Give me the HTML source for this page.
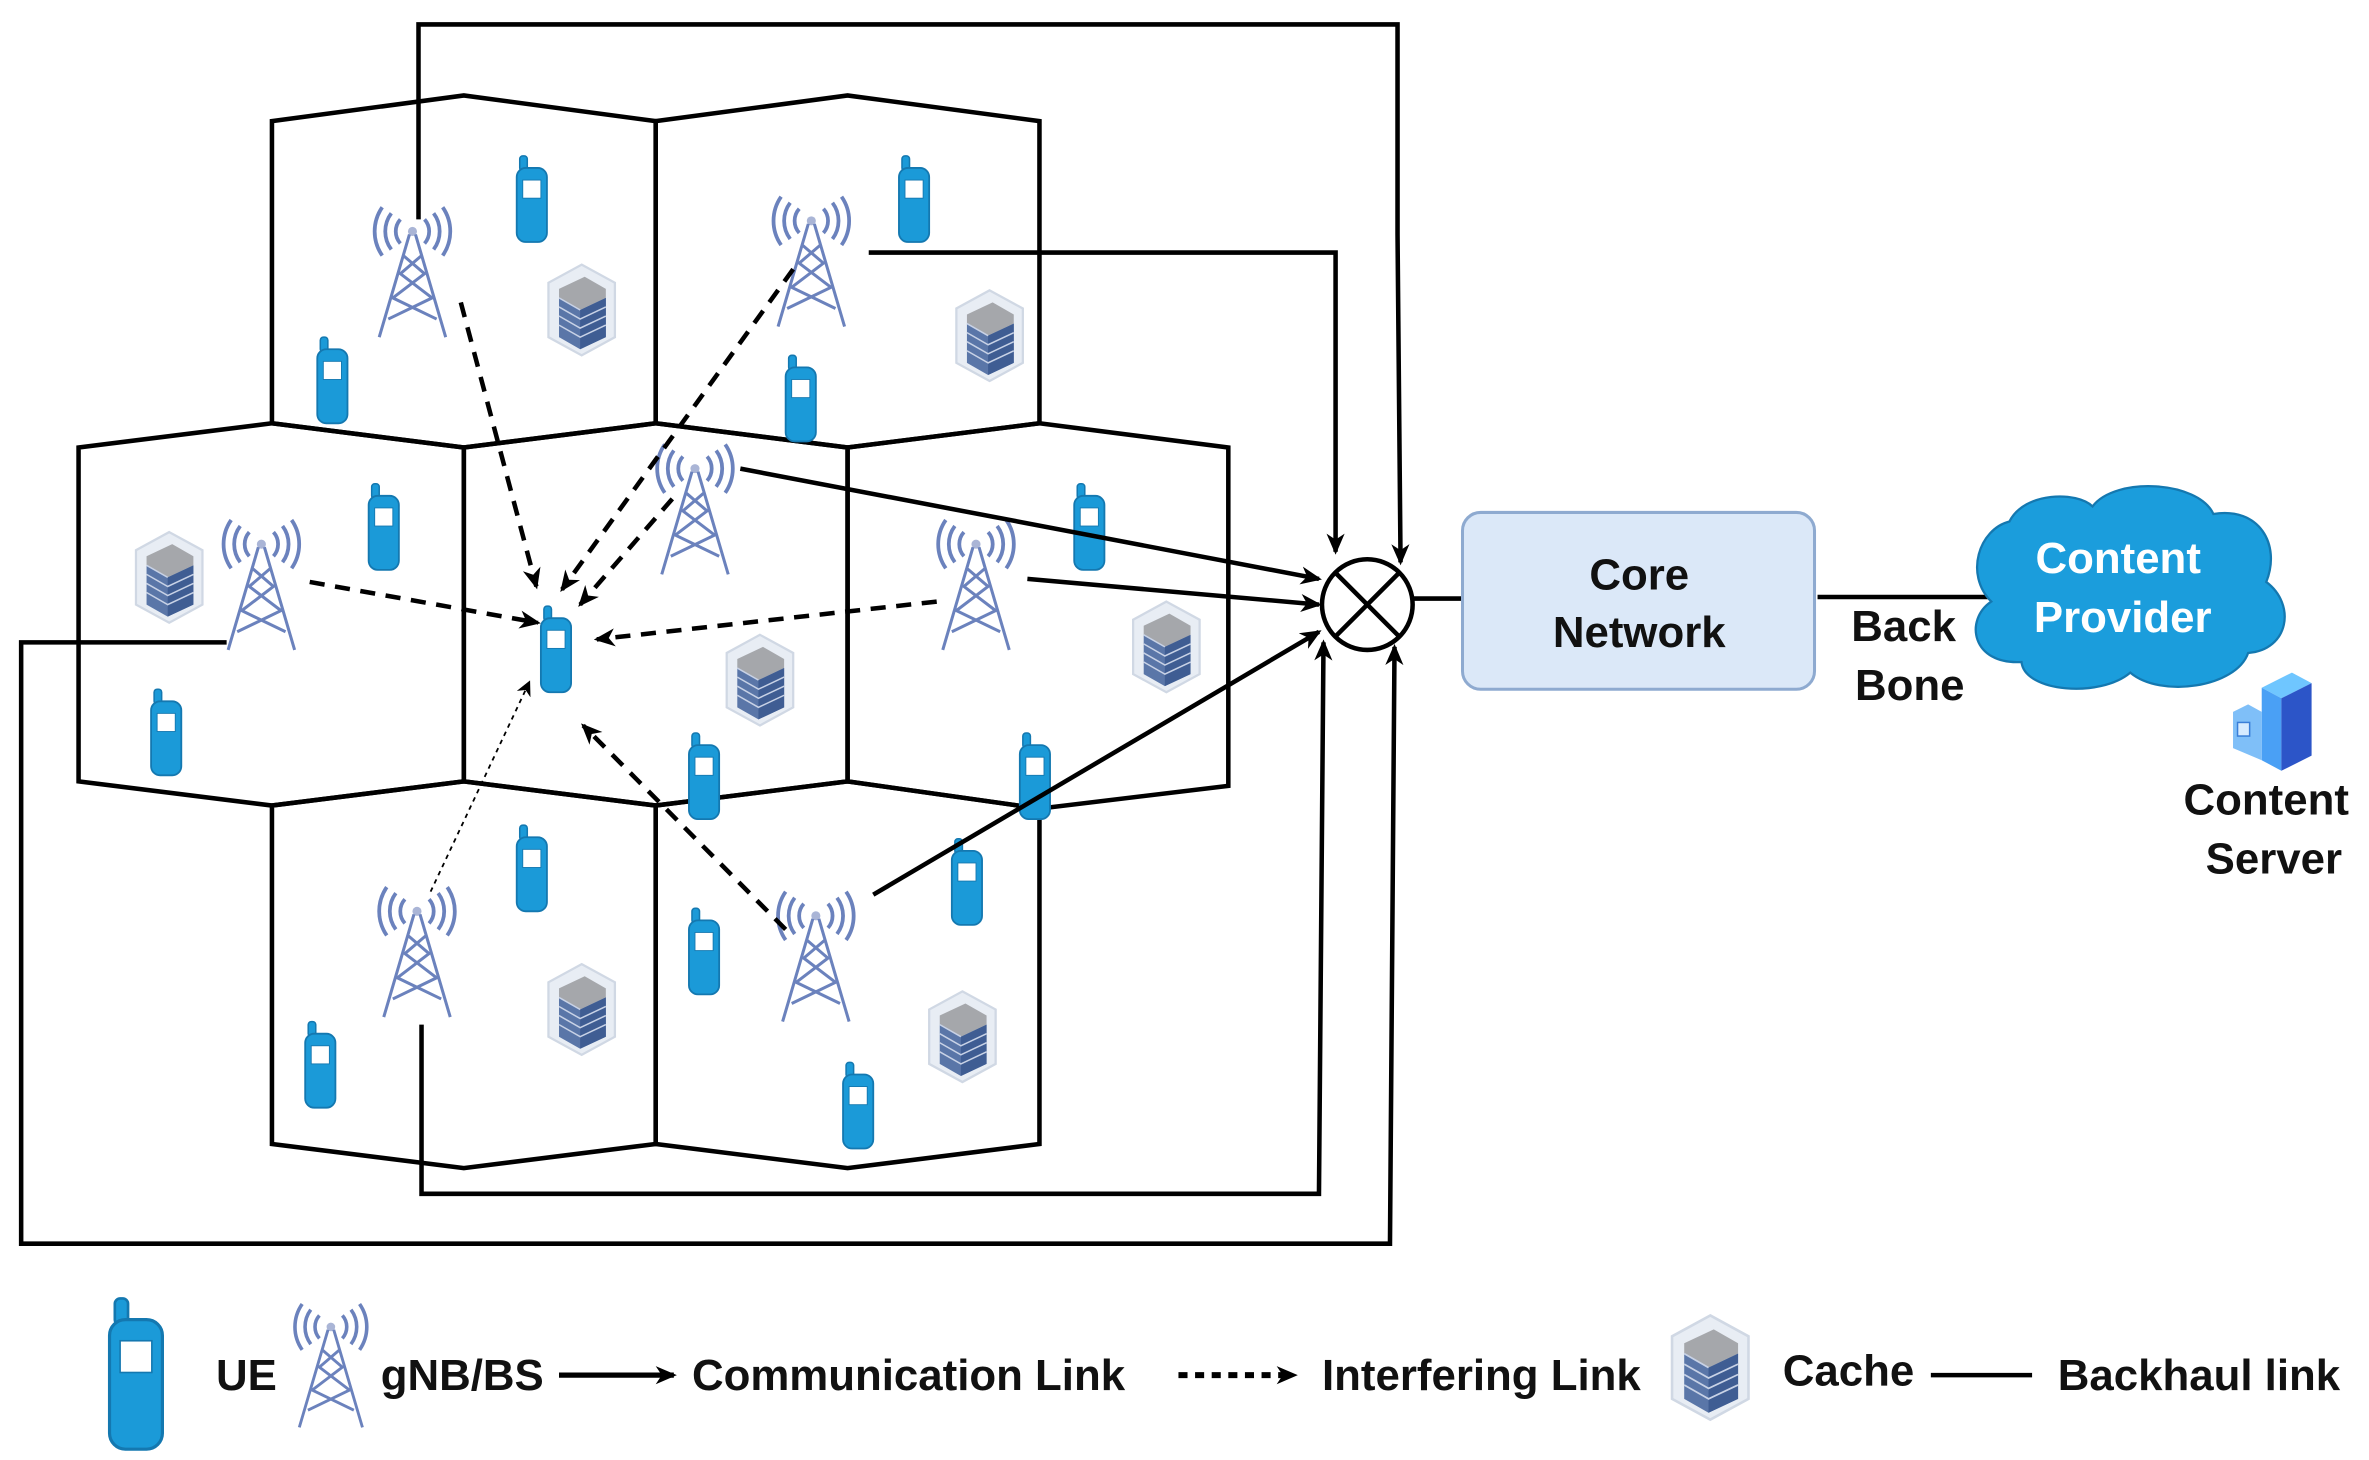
<!DOCTYPE html>
<html><head><meta charset="utf-8"><style>
html,body{margin:0;padding:0;background:#fff;}
svg{display:block;}
text{font-family:"Liberation Sans",Arial,sans-serif;font-weight:bold;fill:#111;}
</style></head><body>
<svg width="2369" height="1460" viewBox="0 0 1568 966" xmlns="http://www.w3.org/2000/svg">
<defs>
<marker id="ah" markerWidth="10" markerHeight="10" refX="8" refY="5" orient="auto" markerUnits="userSpaceOnUse">
<path d="M0,0 L10,5 L0,10 L3,5 z" fill="#000"/></marker>
<marker id="ah2" markerWidth="14" markerHeight="14" refX="12" refY="7" orient="auto" markerUnits="userSpaceOnUse">
<path d="M0,1 L14,7 L0,13 L4,7 z" fill="#000"/></marker>
<g id="phone">
<rect x="-8" y="-29" width="5" height="10" rx="2" fill="#1b9ad8" stroke="#1478b0" stroke-width="1"/>
<rect x="-10" y="-21" width="20" height="49" rx="6" fill="#1b9ad8" stroke="#1478b0" stroke-width="1.2"/>
<rect x="-6" y="-13" width="12" height="12" fill="#fff" stroke="#1478b0" stroke-width="0.6"/>
</g>
<g id="tower" fill="none" stroke="#6b82bd" stroke-width="2.5">
<path d="M-8,-10 a12,12 0 0 0 0,16 M8,-10 a12,12 0 0 1 0,16"/>
<path d="M-14,-14 a20,20 0 0 0 0,24 M14,-14 a20,20 0 0 1 0,24"/>
<path d="M-20,-18 a28,28 0 0 0 0,32 M20,-18 a28,28 0 0 1 0,32"/>
<circle cx="0" cy="-2" r="3" fill="#aab5d6" stroke="none"/>
<path d="M-2,0 L-22,68 M2,0 L22,68 M-6,14 L8,26 L-13,42 L16,56 M6,14 L-8,26 L13,42 L-16,56" stroke-width="2"/>
</g>
<g id="cache">
<path d="M0,-30 L22,-18 L22,18 L0,30 L-22,18 L-22,-18 z" fill="#e8edf4" stroke="#d0d8e4" stroke-width="1.5"/>
<path d="M-15,-14 L2,-22 L16,-14 L16,-8 L-1,0 L-15,-8 z" fill="#a5a7ab"/>
<path d="M-15,-8 L-1,0 L16,-8 L16,18 L-1,26 L-15,18 z" fill="#5a76a8"/>
<path d="M-1,0 L16,-8 L16,18 L-1,26 z" fill="#3f5d93"/>
<path d="M-15,-2 L-1,6 L16,-2 M-15,4 L-1,12 L16,4 M-15,10 L-1,18 L16,10 M-15,-8 L-1,0" stroke="#c8d2e6" stroke-width="1" fill="none"/>
</g>
</defs>

<!-- cells -->
<g fill="none" stroke="#000" stroke-width="3">
<polygon points="180,80 307,63 434,80 434,280 307,296 180,280"/>
<polygon points="434,80 561,63 688,80 688,280 561,296 434,280"/>
<polygon points="52,296 180,280 307,296 307,517 180,533 52,517"/>
<polygon points="307,296 434,280 561,296 561,517 434,533 307,517"/>
<polygon points="561,296 688,280 813,296 813,520 688,535 561,517"/>
<polygon points="180,533 307,517 434,533 434,757 307,773 180,757"/>
<polygon points="434,533 561,517 688,535 688,757 561,773 434,757"/>
</g>

<!-- caches -->
<use href="#cache" x="385" y="205"/><use href="#cache" x="655" y="222"/>
<use href="#cache" x="112" y="382"/><use href="#cache" x="503" y="450"/>
<use href="#cache" x="772" y="428"/><use href="#cache" x="385" y="668"/>
<use href="#cache" x="637" y="686"/>

<!-- towers -->
<use href="#tower" x="273" y="155"/><use href="#tower" x="537" y="148"/>
<use href="#tower" x="460" y="312"/><use href="#tower" x="173" y="362"/>
<use href="#tower" x="646" y="362"/><use href="#tower" x="276" y="605"/>
<use href="#tower" x="540" y="608"/>

<!-- phones -->
<use href="#phone" x="352" y="132"/><use href="#phone" x="605" y="132"/>
<use href="#phone" x="220" y="252"/><use href="#phone" x="530" y="264"/>
<use href="#phone" x="254" y="349"/><use href="#phone" x="721" y="349"/>
<use href="#phone" x="110" y="485"/><use href="#phone" x="368" y="430"/>
<use href="#phone" x="466" y="514"/><use href="#phone" x="685" y="514"/>
<use href="#phone" x="352" y="575"/><use href="#phone" x="640" y="584"/>
<use href="#phone" x="466" y="630"/><use href="#phone" x="212" y="705"/>
<use href="#phone" x="568" y="732"/>

<!-- backhaul -->
<g fill="none" stroke="#000" stroke-width="3">
<path d="M277,145 L277,16 L925,16 L925,155 L927,372" marker-end="url(#ah2)"/>
<path d="M575,167 L884,167 L884,365" marker-end="url(#ah2)"/>
<path d="M150,425 L14,425 L14,823 L920,823 L923,428" marker-end="url(#ah2)"/>
<path d="M279,678 L279,790 L873,790 L876,425" marker-end="url(#ah2)"/>
<path d="M490,310 L873,383" marker-end="url(#ah2)"/>
<path d="M680,383 L873,400" marker-end="url(#ah2)"/>
<path d="M578,592 L873,418" marker-end="url(#ah2)"/>
</g>

<!-- interfering -->
<g fill="none" stroke="#000" stroke-width="3" stroke-dasharray="10,7">
<path d="M305,200 L355,388" marker-end="url(#ah2)"/>
<path d="M525,178 L372,390" marker-end="url(#ah2)"/>
<path d="M445,330 L384,400" marker-end="url(#ah2)"/>
<path d="M205,385 L356,412" marker-end="url(#ah2)"/>
<path d="M620,398 L395,423" marker-end="url(#ah2)"/>
<path d="M520,615 L386,480" marker-end="url(#ah2)"/>
</g>
<path d="M285,590 L350,452" fill="none" stroke="#000" stroke-width="1.2" stroke-dasharray="3,3" marker-end="url(#ah)"/>

<!-- core -->
<circle cx="905" cy="400" r="30" fill="#fff" stroke="#000" stroke-width="3"/>
<path d="M884,379 L926,421 M926,379 L884,421" stroke="#000" stroke-width="3"/>
<path d="M935,396 L968,396" stroke="#000" stroke-width="3"/>
<rect x="968" y="339" width="233" height="117" rx="12" fill="#dbe8f8" stroke="#8eaad0" stroke-width="2"/>
<text x="1085" y="390" font-size="29" text-anchor="middle">Core</text>
<text x="1085" y="428" font-size="29" text-anchor="middle">Network</text>
<path d="M1203,395 L1330,395" stroke="#000" stroke-width="3"/>
<text x="1260" y="424" font-size="29" text-anchor="middle">Back</text>
<text x="1264" y="463" font-size="29" text-anchor="middle">Bone</text>

<!-- cloud -->
<path d="M1330,345 C1340,325 1375,325 1385,335 C1400,315 1455,318 1465,340 C1495,335 1510,360 1500,385 C1520,400 1515,430 1488,432 C1480,455 1430,462 1410,445 C1390,462 1340,458 1338,438 C1305,440 1300,410 1318,398 C1300,380 1310,350 1330,345 z" fill="#1b9ddc" stroke="#1478b0" stroke-width="1.5"/>
<text x="1402" y="379" font-size="29" text-anchor="middle" style="fill:#fff">Content</text>
<text x="1405" y="418" font-size="29" text-anchor="middle" style="fill:#fff">Provider</text>

<!-- server building -->
<path d="M1497,455 L1517,445 L1530,452 L1510,462 z" fill="#6fc6ff"/>
<path d="M1497,455 L1510,462 L1510,510 L1497,503 z" fill="#4aa0f5"/>
<path d="M1510,462 L1530,452 L1530,500 L1510,510 z" fill="#2c55c8"/>
<path d="M1478,471 L1488,466 L1497,471 L1497,503 L1478,495 z" fill="#7fbff8"/>
<rect x="1481" y="478" width="8" height="9" fill="#d6ebff" stroke="#3a7fd8" stroke-width="1"/>
<text x="1500" y="539" font-size="29" text-anchor="middle">Content</text>
<text x="1505" y="578" font-size="29" text-anchor="middle">Server</text>

<!-- legend -->
<g transform="translate(90,910) scale(1.75)"><use href="#phone"/></g>
<text x="143" y="920" font-size="29">UE</text>
<g transform="translate(219,880) scale(0.95)"><use href="#tower"/></g>
<text x="252" y="920" font-size="29">gNB/BS</text>
<path d="M370,910 L446,910" stroke="#000" stroke-width="3.5" marker-end="url(#ah2)"/>
<text x="458" y="920" font-size="29">Communication Link</text>
<path d="M780,910 L857,910" stroke="#000" stroke-width="4" stroke-dasharray="6,5" marker-end="url(#ah2)"/>
<text x="875" y="920" font-size="29">Interfering Link</text>
<g transform="translate(1132,905) scale(1.15)"><use href="#cache"/></g>
<text x="1180" y="917" font-size="29">Cache</text>
<path d="M1278,910 L1345,910" stroke="#000" stroke-width="3"/>
<text x="1362" y="920" font-size="29">Backhaul link</text>
</svg>
</body></html>
